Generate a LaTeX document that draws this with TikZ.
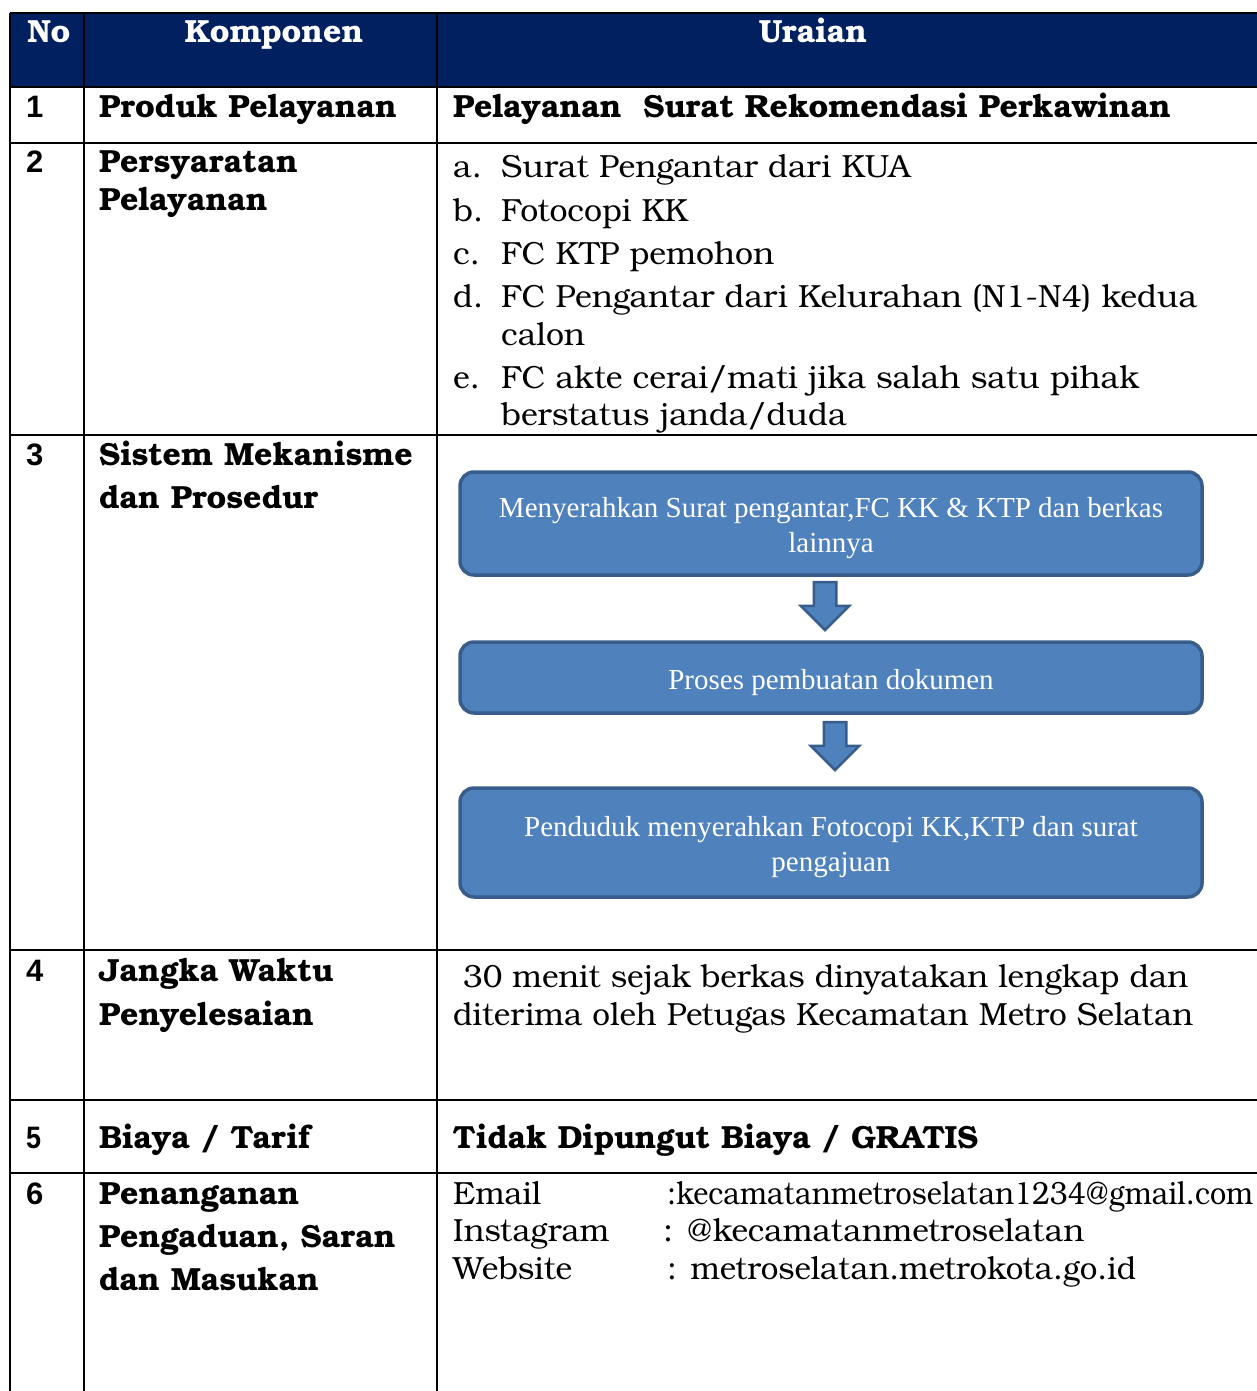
\documentclass[tikz,border=0pt]{standalone}
\usepackage{fontspec}
\usepackage{graphicx}
\newfontfamily\bkm{texgyrebonum}[Extension=.otf, UprightFont=*-regular, BoldFont=*-bold]
\newfontfamily\timesf{Liberation Serif}
\newfontfamily\arialf{Liberation Sans}
\usetikzlibrary{shapes.arrows}

\definecolor{navy}{RGB}{0,32,96}
\definecolor{boxblue}{RGB}{79,129,189}
\definecolor{boxline}{RGB}{56,93,138}

% squeeze a line to a given width, keeping its height
\newcommand{\fitto}[2]{\resizebox{#1}{\height}{#2}}

\tikzset{
  grid/.style={line width=2.4pt},
  hd/.style={font=\bkm\bfseries\fontsize{32}{38}\selectfont, text=white, anchor=base, inner sep=0pt},
  num/.style={font=\arialf\bfseries\fontsize{31}{36}\selectfont, anchor=base west, inner sep=0pt},
  komp/.style={font=\bkm\bfseries\fontsize{32}{#1}\selectfont, anchor=base west, inner sep=0pt, align=left},
  komp/.default=43,
  isi/.style={font=\bkm\fontsize{32}{#1}\selectfont, anchor=base west, inner sep=0pt, align=left},
  isi/.default=38,
  langkah/.style={rounded corners=14pt, fill=boxblue, draw=boxline, line width=3.5pt,
    minimum width=742pt,
    label={[text=white, font=\timesf\fontsize{29}{35}\selectfont, align=center, yshift=-5pt]center:#1}},
  panah/.style={single arrow, rotate=-90, fill=boxblue, draw=boxline, line width=2.5pt,
    minimum height=48pt, minimum width=46pt, inner xsep=0pt, inner ysep=10pt,
    single arrow head extend=13pt, anchor=tail}
}

\begin{document}
\begin{tikzpicture}[x=1pt, y=-1pt]
\useasboundingbox (0,0) rectangle (1257,1391);

% header
\fill[navy] (10,13) rectangle (1257,87);
\node[hd] (hno) at (49,43) {No};
\node[hd] (hkomp) at (274,43) {Komponen};
\node[hd] (hurai) at (813,43) {Uraian};

% grid
\foreach \y in {13,87,143,435,950,1100,1173}
  \draw[grid] (10,\y) -- (1257,\y);
\foreach \x in {10,84,437}
  \draw[grid] (\x,13) -- (\x,1391);

% row 1
\node[num] (n1) at (26,118) {1};
\node[komp] (k1) at (99,118) {Produk Pelayanan};
\node[komp] (u1) at (453,118) {Pelayanan\ \ Surat Rekomendasi Perkawinan};

% row 2 (base of a multi-line node = its last line)
\node[num] (n2) at (26,173) {2};
\node[komp=37] (k2) at (99,210) {Persyaratan\\Pelayanan};
\node[isi] (la) at (453,178) {a.};
\node[isi] (ta) at (501,178) {Surat Pengantar dari KUA};
\node[isi] (lb) at (453,221) {b.};
\node[isi] (tb) at (501,221) {Fotocopi KK};
\node[isi] (lc) at (453,264) {c.};
\node[isi] (tc) at (501,264) {FC KTP pemohon};
\node[isi] (ld) at (453,307) {d.};
\node[isi] (td) at (501,345) {FC Pengantar dari Kelurahan (N1-N4) kedua\\calon};
\node[isi] (le) at (453,388) {e.};
\node[isi=37] (te) at (501,425) {FC akte cerai/mati jika salah satu pihak\\berstatus janda/duda};

% row 3
\node[num] (n3) at (26,465) {3};
\node[komp] (k3) at (99,508) {Sistem Mekanisme\\dan Prosedur};
\node[langkah={Menyerahkan Surat pengantar,FC KK \& KTP dan berkas\\lainnya},
  minimum height=103pt] (s1) at (831,523.5) {};
\node[langkah={Proses pembuatan dokumen}, minimum height=71pt] (s2) at (831,677.5) {};
\node[langkah={Penduduk menyerahkan Fotocopi KK,KTP dan surat\\pengajuan},
  minimum height=109pt] (s3) at (831,842.5) {};
\node[panah] (p1) at ([xshift=-6pt,yshift=-4pt]s1.south) {};
\node[panah] (p2) at ([xshift=4pt,yshift=-6pt]s2.south) {};

% row 4
\node[num] (n4) at (26,981) {4};
\node[komp=44] (k4) at (99,1025) {Jangka Waktu\\Penyelesaian};
\node[isi] (u4a) at (463,987) {\fitto{725pt}{30 menit sejak berkas dinyatakan lengkap dan}};
\node[isi] (u4b) at (453,1025) {\fitto{740pt}{diterima oleh Petugas Kecamatan Metro Selatan}};

% row 5
\node[num] (n5) at (26,1148) {\fitto{15pt}{5}};
\node[komp] (k5) at (99,1148) {\fitto{211pt}{Biaya / Tarif}};
\node[komp] (u5) at (453,1148) {\fitto{525pt}{Tidak Dipungut Biaya / GRATIS}};

% row 6
\node[num] (n6) at (26,1204) {6};
\node[komp] (k6) at (99,1290) {Penanganan\\Pengaduan, Saran\\dan Masukan};
\node[isi] (e1) at (453,1204) {\fitto{88pt}{Email}};
\node[isi] (e2) at (667,1204) {\fitto{586pt}{:kecamatanmetroselatan1234@gmail.com}};
\node[isi] (i1) at (453,1241) {\fitto{156pt}{Instagram}};
\node[isi] (i2) at (663,1241) {\fitto{421pt}{: @kecamatanmetroselatan}};
\node[isi] (w1) at (453,1279) {\fitto{119pt}{Website}};
\node[isi] (w2) at (667,1279) {\fitto{469pt}{: metroselatan.metrokota.go.id}};
\end{tikzpicture}
\end{document}
